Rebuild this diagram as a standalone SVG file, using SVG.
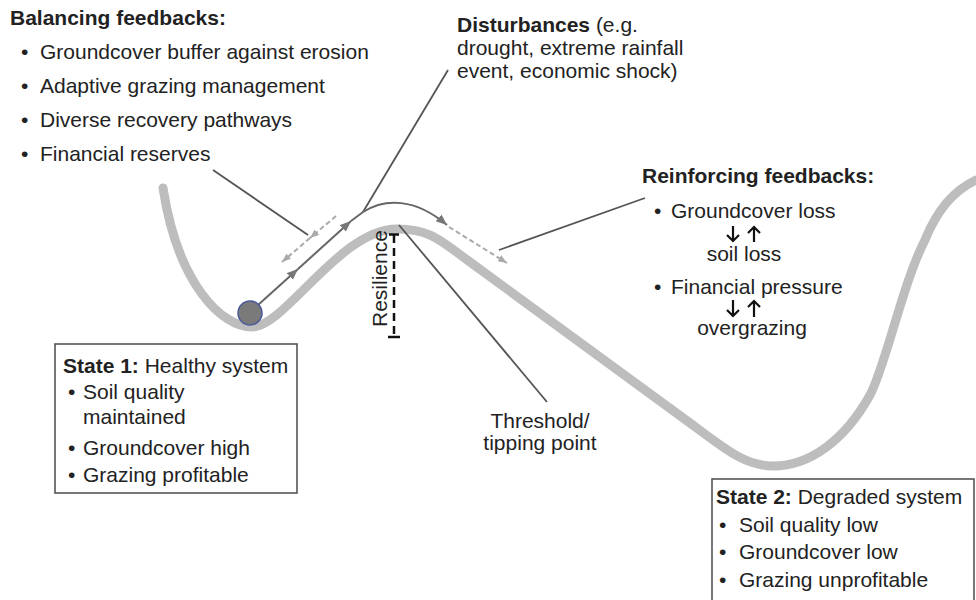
<svg xmlns="http://www.w3.org/2000/svg" width="976" height="600" viewBox="0 0 976 600">
<style>
text{font-family:"Liberation Sans",Arial,Helvetica,sans-serif;font-size:21px;fill:#222}
.b{font-weight:bold}
.mid{text-anchor:middle}
.land{fill:none;stroke:#bdbdbd;stroke-width:9;stroke-linecap:round}
.lead{fill:none;stroke:#555;stroke-width:1.8}
.path{fill:none;stroke:#666;stroke-width:2}
.dash{fill:none;stroke:#aaa;stroke-width:2;stroke-dasharray:5 3}
.box{fill:#fff;stroke:#555;stroke-width:1.6}
.res{fill:none;stroke:#111;stroke-width:2.5}
.fb{fill:none;stroke:#111;stroke-width:2.2}
</style>
<defs>
<marker id="solidHead" markerUnits="userSpaceOnUse" markerWidth="12" markerHeight="10" refX="11" refY="4.5" orient="auto"><path d="M0,0 L11,4.5 L0,9 z" fill="#777"/></marker>
<marker id="dashHead" markerUnits="userSpaceOnUse" markerWidth="10" markerHeight="8" refX="9" refY="3.5" orient="auto"><path d="M0,0 L9,3.5 L0,7 z" fill="#aaa"/></marker>
</defs>

<g id="landscape">
<path class="land" d="M163,188 C178,285 222,327 252,327 C285,327 340,229 397,229 C430,229 440,240 470,262 L690,423 C725,449 745,466 773,466 C810,466 845,440 870,395 C885,368 903,282 925,240 C935,215 950,192 976,180"/>
</g>

<g id="connectors">
<path class="lead" d="M213,170 L308,235"/>
<path class="lead" d="M448,70 L363,212"/>
<path class="lead" d="M499,250 L645,198"/>
<path class="lead" d="M399,225 L547,402"/>
<path class="path" d="M258,305 L298,269" marker-end="url(#solidHead)"/>
<path class="path" d="M298,269 L351,221" marker-end="url(#solidHead)"/>
<path class="path" d="M351,221 L363,212 C385,198 415,198 447,225" marker-end="url(#solidHead)"/>
<path class="dash" d="M336,216 L310,238" marker-end="url(#dashHead)"/>
<path class="dash" d="M310,238 L282,262" marker-end="url(#dashHead)"/>
<path class="dash" d="M449,227 L507,263" marker-end="url(#dashHead)"/>
</g>

<g id="ball">
<circle cx="250" cy="313" r="12" fill="#7a7a7a" stroke="#4a5a9a" stroke-width="1.5"/>
</g>

<g id="resilience">
<path class="res" d="M394,235 V337" stroke-dasharray="8 5"/>
<path class="res" d="M389,234.5 H399 M388,337 H400"/>
<text transform="translate(387,327) rotate(-90)">Resilience</text>
</g>

<g id="balancing">
<text x="10" y="25" class="b">Balancing feedbacks:</text>
<text y="59"><tspan x="21">•</tspan><tspan x="40">Groundcover buffer against erosion</tspan></text>
<text y="93"><tspan x="21">•</tspan><tspan x="40">Adaptive grazing management</tspan></text>
<text y="127"><tspan x="21">•</tspan><tspan x="40">Diverse recovery pathways</tspan></text>
<text y="161"><tspan x="21">•</tspan><tspan x="40">Financial reserves</tspan></text>
</g>

<g id="disturbances">
<text x="457" y="32"><tspan class="b">Disturbances</tspan> (e.g.</text>
<text x="457" y="55">drought, extreme rainfall</text>
<text x="457" y="78">event, economic shock)</text>
</g>

<g id="reinforcing">
<text x="642" y="183" class="b">Reinforcing feedbacks:</text>
<text y="218"><tspan x="654">•</tspan><tspan x="671">Groundcover loss</tspan></text>
<path class="fb" d="M733,226 V241 M727,235 L733,241 L739,235 M754,242 V227 M748,233 L754,227 L760,233"/>
<text x="744" y="261" class="mid">soil loss</text>
<text y="294"><tspan x="654">•</tspan><tspan x="671">Financial pressure</tspan></text>
<path class="fb" d="M733,300 V316 M727,310 L733,316 L739,310 M754,317 V301 M748,307 L754,301 L760,307"/>
<text x="752" y="335" class="mid">overgrazing</text>
</g>

<g id="threshold">
<text x="540" y="428" class="mid">Threshold/</text>
<text x="540" y="450" class="mid">tipping point</text>
</g>

<g id="state1">
<rect class="box" x="55" y="344" width="242" height="149"/>
<text x="63" y="373"><tspan class="b">State 1:</tspan> Healthy system</text>
<text y="399"><tspan x="68">•</tspan><tspan x="83">Soil quality</tspan></text>
<text x="83" y="424">maintained</text>
<text y="455"><tspan x="68">•</tspan><tspan x="83">Groundcover high</tspan></text>
<text y="482"><tspan x="68">•</tspan><tspan x="83">Grazing profitable</tspan></text>
</g>

<g id="state2">
<rect class="box" x="712" y="479" width="262" height="130"/>
<text x="716" y="504"><tspan class="b">State 2:</tspan> Degraded system</text>
<text y="532"><tspan x="719">•</tspan><tspan x="739">Soil quality low</tspan></text>
<text y="559"><tspan x="719">•</tspan><tspan x="739">Groundcover low</tspan></text>
<text y="587"><tspan x="719">•</tspan><tspan x="739">Grazing unprofitable</tspan></text>
</g>
</svg>
